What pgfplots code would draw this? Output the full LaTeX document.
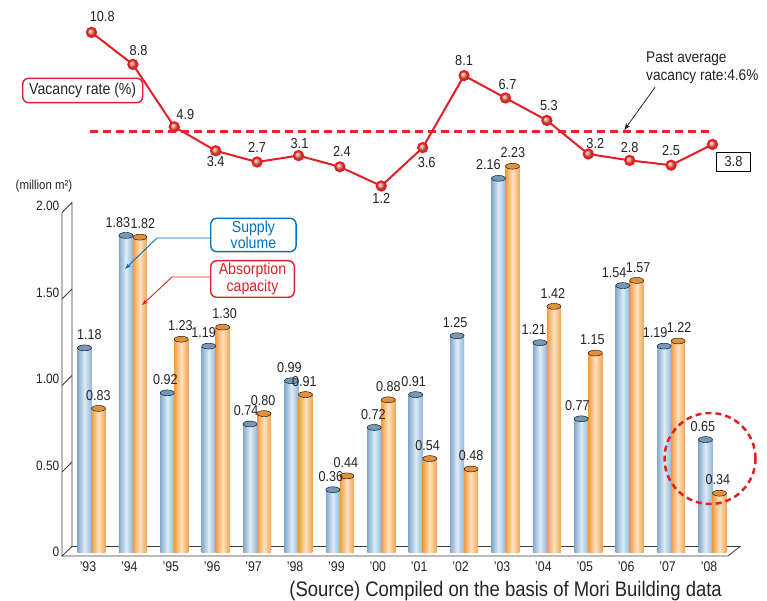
\documentclass[border=0pt]{standalone}
\usepackage{fontspec}
\setmainfont{Liberation Sans}[FakeStretch=0.88]
\usepackage{pgfplots}
\pgfplotsset{compat=1.18}
\usepackage{pgfplotstable}
\usetikzlibrary{arrows.meta}

\definecolor{vacred}{RGB}{228,30,38}
\definecolor{avgred}{RGB}{240,35,40}
\definecolor{blueL}{RGB}{132,170,204}
\definecolor{blueM}{RGB}{222,236,248}
\definecolor{blueR}{RGB}{146,182,214}
\definecolor{blueCap}{RGB}{116,152,186}
\definecolor{orL}{RGB}{242,156,64}
\definecolor{orM}{RGB}{255,226,192}
\definecolor{orR}{RGB}{240,164,84}
\definecolor{orCap}{RGB}{224,146,58}
\definecolor{labgray}{RGB}{35,35,35}
\definecolor{supblue}{RGB}{0,112,192}
\definecolor{wallgray}{RGB}{60,60,60}
\definecolor{ballc}{RGB}{250,128,98}

% supply / absorption (million m2), 1993-2008, with label shifts (pt)
\pgfplotstableread{
yr supply absorb sdx  adx
0  1.18   0.83   -2   7
1  1.83   1.82   -15  10
2  0.92   1.23   -9   6
3  1.19   1.30   -12  9
4  0.74   0.80   -11  6
5  0.99   0.91   -9   6
6  0.36   0.44   -9   6
7  0.72   0.88   -8   7
8  0.91   0.54   -9   5
9  1.25   0.48   -9   7
10 2.16   2.23   -17  7.5
11 1.21   1.42   -13  6
12 0.77   1.15   -11  4
13 1.54   1.57   -15.5 8.5
14 1.19   1.22   -16  8
15 0.65   0.34   -9.5 5.5
}\bardata

% vacancy rate (%) with label offsets (pt)
\pgfplotstableread{
x  rate dx  dy
0  10.8 10.7 15.6
1  8.8  5.7  14
2  4.9  11   12
3  3.4  0    -11
4  2.7  0    15
5  3.1  1    12
6  2.4  2    15
7  1.2  0    -12
8  3.6  4    -15
9  8.1  0    15
10 6.7  2    13
11 5.3  2    15
12 3.2  7    10
13 2.8  0    13
14 2.5  0    15
15 3.8  0    0
}\vacdata

% past average vacancy rate
\pgfplotstableread{
x     rate
-0.03 4.6
15.03 4.6
}\avgdata

\tikzset{px/.style={x=1pt,y=-1pt,shift={(0pt,600pt)}}}

\begin{document}
\begin{tikzpicture}
\path[use as bounding box] (0,0) rectangle (767pt,600pt);

% floor and side wall
\begin{scope}[px, draw=wallgray, line width=0.8pt]
  \filldraw[fill=white] (62,556) -- (728,556) -- (740,546.5) -- (72,546.5) -- cycle;
  \draw (62,556) -- (62,212.5) -- (72,202.5) -- (72,546.5);
  \foreach \v in {0.5,1,1.5}{
    \pgfmathsetmacro{\py}{552-173*\v}
    \draw (62,\py+6.5) -- (72,\py-3.5);
  }
\end{scope}

% bars
\begin{axis}[
  at={(62.5pt,48pt)}, anchor=south west, scale only axis,
  width=678.96pt, height=346pt,
  xmin=-0.7, xmax=15.7, ymin=0, ymax=2,
  clip=false,
  axis line style={draw=none}, tick style={draw=none},
  xtick={0,...,15},
  xticklabels={’93,’94,’95,’96,’97,’98,’99,’00,’01,’02,’03,’04,’05,’06,’07,’08},
  xticklabel style={anchor=north, inner sep=0pt, yshift=-10pt, xshift=-3.5pt,
    font=\fontsize{14}{16}\selectfont, text=labgray},
  ytick={0,0.5,1,1.5,2},
  yticklabels={0,0.50,1.00,1.50,2.00},
  yticklabel style={anchor=east, inner sep=1pt, xshift=-2pt,
    font=\fontsize{13.5}{16}\selectfont, text=labgray},
  xtick pos=bottom, ytick pos=left,
  /pgf/number format/assume math mode=true,
]
% one cylinder body per year, so that each carries its own shading
\pgfplotsinvokeforeach{0,...,15}{
  \addplot[ybar, bar width=14pt, bar shift=-7pt, draw=none,
    left color=blueL, right color=blueR, middle color=blueM,
    restrict expr to domain={\coordindex}{#1:#1}]
    table[x=yr, y=supply]{\bardata};
  \addplot[ybar, bar width=14pt, bar shift=7pt, draw=none,
    left color=orL, right color=orR, middle color=orM,
    restrict expr to domain={\coordindex}{#1:#1}]
    table[x=yr, y=absorb]{\bardata};
}
% cylinder caps
\addplot[only marks, mark=*, mark size=7pt,
  mark options={xshift=-7pt, yscale=0.42, draw=none, fill=blueCap}]
  table[x=yr, y=supply]{\bardata};
\addplot[only marks, mark=*, mark size=7pt,
  mark options={xshift=7pt, yscale=0.42, draw=none, fill=orCap}]
  table[x=yr, y=absorb]{\bardata};
% value labels
\addplot[draw=none, mark=none,
  visualization depends on={\thisrow{sdx} \as \lsdx},
  nodes near coords={\pgfmathprintnumber[fixed,fixed zerofill,precision=2]{\pgfplotspointmeta}},
  every node near coord/.style={anchor=south, inner sep=1pt, yshift=7pt,
    xshift=\lsdx pt, font=\fontsize{14.3}{16}\selectfont, text=labgray},
] table[x=yr, y=supply]{\bardata};
\addplot[draw=none, mark=none,
  visualization depends on={\thisrow{adx} \as \ladx},
  nodes near coords={\pgfmathprintnumber[fixed,fixed zerofill,precision=2]{\pgfplotspointmeta}},
  every node near coord/.style={anchor=south, inner sep=1pt, yshift=7pt,
    xshift=\ladx pt, font=\fontsize{14.3}{16}\selectfont, text=labgray},
] table[x=yr, y=absorb]{\bardata};
\end{axis}

% vacancy rate
\begin{axis}[
  at={(62.5pt,394.8pt)}, anchor=south west, scale only axis,
  width=678.96pt, height=192pt,
  xmin=-0.7, xmax=15.7, ymin=0, ymax=12,
  hide axis, clip=false,
  /pgf/number format/assume math mode=true,
]
\addplot[color=avgred, line width=2.2pt, line cap=butt, mark=none,
  dash pattern=on 8pt off 5pt]
  table[x=x, y=rate]{\avgdata};
\addplot[color=vacred, draw=vacred, line width=2pt, mark=ball, mark size=4.6pt,
  mark options={solid, ball color=ballc}]
  table[x=x, y=rate]{\vacdata};
\addplot[draw=none, mark=none,
  skip coords between index={15}{16},
  visualization depends on={\thisrow{dx} \as \ldx},
  visualization depends on={\thisrow{dy} \as \ldy},
  nodes near coords={\pgfmathprintnumber[fixed,fixed zerofill,precision=1]{\pgfplotspointmeta}},
  every node near coord/.style={anchor=center, inner sep=0pt,
    xshift=\ldx pt, yshift=\ldy pt,
    font=\fontsize{14.5}{16}\selectfont, text=labgray},
] table[x=x, y=rate]{\vacdata};
\addplot[draw=none, mark=none,
  nodes near coords={\pgfmathprintnumber[fixed,fixed zerofill,precision=1]{\pgfplotspointmeta}},
  every node near coord/.style={anchor=center, draw=black, line width=0.8pt,
    minimum width=34pt, minimum height=19.5pt, inner sep=0pt,
    xshift=21pt, yshift=-17.5pt,
    font=\fontsize{14.5}{16}\selectfont, text=labgray},
] coordinates {(15,3.8)};
\end{axis}

% annotations
\begin{scope}[px]
  \node[draw=vacred, line width=1.4pt, rounded corners=6pt, minimum width=120pt,
    minimum height=24.4pt, inner sep=0pt, text=labgray,
    font=\fontsize{16}{18}\selectfont] at (82.7,90.5) {Vacancy rate (\%)};
  \node[anchor=west, align=left, inner sep=0pt, text=labgray,
    font=\fontsize{15.5}{17.7}\selectfont] at (646,68) {Past average\\vacancy rate:4.6\%};
  \draw[black!85, line width=0.8pt, -{Stealth[length=7pt,width=5pt]}]
    (655,87.3) -- (624.3,130);

  \node[draw=supblue, line width=1.4pt, rounded corners=6pt, minimum width=85.3pt,
    minimum height=33.4pt, inner sep=0pt, align=center, text=supblue,
    font=\fontsize{16}{14.7}\selectfont] at (253.4,235) {Supply\\volume};
  \draw[supblue, line width=0.9pt, -{Stealth[length=6pt,width=4pt]}]
    (210.7,238) -- (157,238) -- (125,269);

  \node[draw=vacred, line width=1.4pt, rounded corners=6pt, minimum width=83.6pt,
    minimum height=36.6pt, inner sep=0pt, align=center, text=vacred,
    font=\fontsize{16}{16.3}\selectfont] at (252.5,279) {Absorption\\capacity};
  \draw[vacred, line width=0.9pt, -{Stealth[length=6pt,width=4pt]}]
    (210.7,277) -- (172,277) -- (142,305);

  \draw[vacred, line width=2.5pt, dash pattern=on 6pt off 4pt]
    (710,458.5) circle[radius=45.5pt];

  \node[text=labgray, font=\fontsize{13}{15}\selectfont] at (44,186) {(million m²)};
  \node[anchor=east, inner sep=0pt, text=labgray, font=\fontsize{21}{23}\selectfont]
    at (722,591) {(Source) Compiled on the basis of Mori Building data};
\end{scope}
\end{tikzpicture}
\end{document}
